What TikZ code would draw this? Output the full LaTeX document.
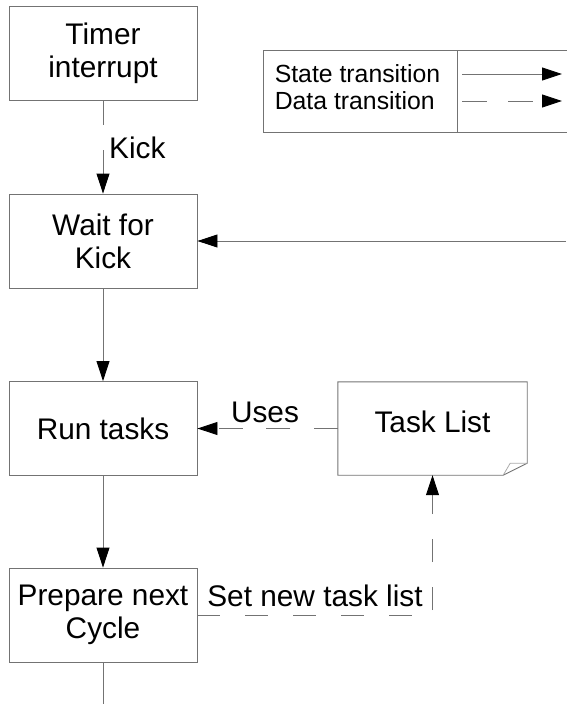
\documentclass[tikz,border=0pt]{standalone}
\usepackage{fontspec}
\setmainfont{Liberation Sans}
\usetikzlibrary{arrows.meta,calc}
\definecolor{linegray}{RGB}{115,115,115}
\definecolor{foldgray}{RGB}{170,170,170}
\newcommand{\mainsize}{\fontsize{29.8}{33}\selectfont}
\newcommand{\legsize}{\fontsize{24.8}{27}\selectfont}
\tikzset{
  statebox/.style={draw=linegray, line width=0.9pt, minimum width=188pt, minimum height=94pt, inner sep=0pt, align=center, font=\mainsize},
  plainbox/.style={minimum width=189pt, minimum height=93pt, inner sep=0pt},
  conn/.style={draw=linegray, line width=0.9pt},
  tip/.style={-{Triangle[length=20pt,width=13pt,color=black]}},
  lbl/.style={font=\mainsize, inner sep=0pt},
}
\begin{document}
\begin{tikzpicture}[x=1pt,y=-1pt]
\useasboundingbox (0,0) rectangle (566,704);
% state boxes
\node[statebox] (timer) at (103,53) {Timer\\interrupt};
\node[statebox] (wait) at (103,241) {Wait for\\Kick};
\node[statebox] (run) at (103,428.5) {Run tasks};
\node[statebox] (prep) at (103,615) {Prepare next\\Cycle};
% task list document
\node[plainbox] (tl) at (432.5,428.5) {};
\draw[conn] (tl.south west) -- (tl.north west) -- (tl.north east) -- ($(tl.south east)+(0,-12)$) -- ($(tl.south east)+(-24,0)$) -- cycle;
\draw[draw=foldgray, line width=0.8pt] ($(tl.south east)+(-24,0)$) -- ($(tl.south east)+(-17,-12)$) -- ($(tl.south east)+(0,-12)$);
\node[lbl] (tltext) at (432.5,422) {Task List};
% legend
\node[draw=linegray, line width=0.9pt, minimum width=312pt, minimum height=82pt, inner sep=0pt] (legend) at (419,91) {};
\coordinate (divt) at (457,50);
\coordinate (divb) at (457,132);
\draw[conn] (divt) -- (divb);
\node[font=\legsize, align=left, inner sep=0pt] (legtext) at (357.5,87) {State transition\\Data transition};
\coordinate (s1) at (462,74);
\coordinate (s2) at (562,74);
\coordinate (d1) at (462,101);
\coordinate (d2) at (562,101);
\draw[conn, tip] (s1) -- (s2);
\draw[conn, tip, dash pattern=on 25pt off 21pt] (d1) -- (d2);
% connectors
\draw[conn, tip, dash pattern=on 25pt off 25pt on 300pt] (timer) -- (wait);
\node[lbl, anchor=west] (kick) at (109,148) {Kick};
\draw[conn, tip] (wait) -- (run);
\draw[conn, tip] (run) -- (prep);
\coordinate (rin) at (566,241);
\draw[conn, tip] (rin) -- (wait.east);
\draw[conn, tip, dash pattern=on 24pt off 23.5pt] (tl.west) -- (run.east);
\node[lbl] (uses) at (265,412) {Uses};
\draw[conn, tip, dash pattern=on 23pt off 25pt] (prep.east) -| (tl.south);
\node[lbl] (setnew) at (315,596) {Set new task list};
\coordinate (bot) at (103,706);
\draw[conn] (prep) -- (bot);
\end{tikzpicture}
\end{document}
